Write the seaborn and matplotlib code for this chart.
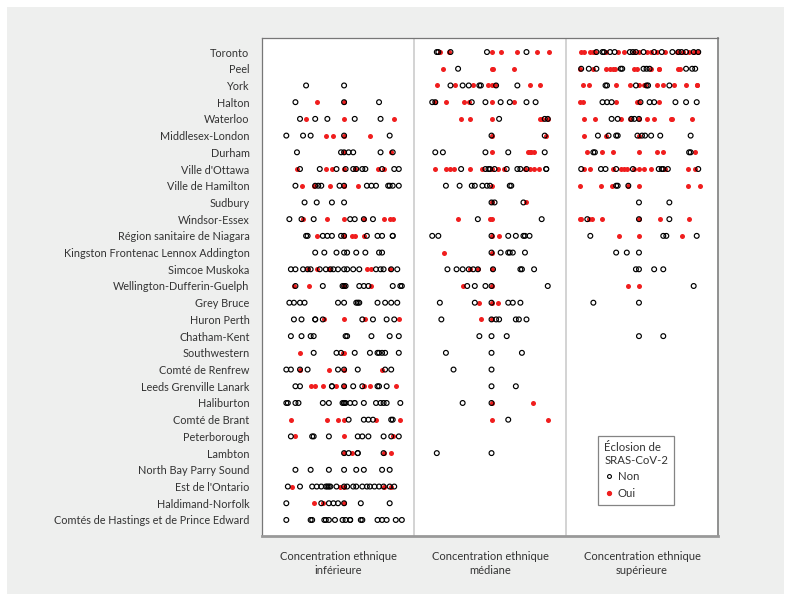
import matplotlib
matplotlib.use("Agg")
import matplotlib.pyplot as plt
from matplotlib.patches import Rectangle
from matplotlib.lines import Line2D
import seaborn as sns
import pandas as pd

# Regions (top to bottom)
regions = ["Toronto", "Peel", "York", "Halton", "Waterloo", "Middlesex-London", "Durham",
           "Ville d'Ottawa", "Ville de Hamilton", "Sudbury", "Windsor-Essex",
           "Région sanitaire de Niagara", "Kingston Frontenac Lennox Addington",
           "Simcoe Muskoka", "Wellington-Dufferin-Guelph", "Grey Bruce", "Huron Perth",
           "Chatham-Kent", "Southwestern", "Comté de Renfrew", "Leeds Grenville Lanark",
           "Haliburton", "Comté de Brant", "Peterborough", "Lambton", "North Bay Parry Sound",
           "Est de l'Ontario", "Haldimand-Norfolk", "Comtés de Hastings et de Prince Edward"]

groups = ["Concentration ethnique\ninférieure", "Concentration ethnique\nmédiane",
          "Concentration ethnique\nsupérieure"]

# position of each home within its group (0-100), split by outbreak status
low_non = {
    "York": [29, 54], "Halton": [22, 54, 77], "Waterloo": [25, 35, 43, 61, 78],
    "Middlesex-London": [16, 27, 32, 54, 84], "Durham": [23, 52, 54, 57, 60, 78, 86],
    "Ville d'Ottawa": [25, 38, 49, 55, 60, 62, 66, 68, 79, 87, 90],
    "Ville de Hamilton": [22, 35, 37, 39, 51, 54, 69, 72, 75, 83, 84, 86, 90],
    "Sudbury": [28, 36, 46, 54], "Windsor-Essex": [18, 26, 34, 58, 61, 67, 73],
    "Région sanitaire de Niagara": [29, 30, 40, 43, 46, 52, 54, 69, 76, 79, 86, 86],
    "Kingston Frontenac Lennox Addington": [35, 41, 49, 54, 56, 62, 68, 77, 79],
    "Simcoe Muskoka": [19, 22, 27, 30, 32, 38, 42, 45, 47, 50, 54, 56, 60, 64, 75, 78, 80, 85, 89],
    "Wellington-Dufferin-Guelph": [22, 40, 53, 54, 55, 64, 67, 70, 86, 91, 92],
    "Grey Bruce": [18, 21, 25, 28, 50, 54, 62, 63, 64, 76, 81, 85, 89],
    "Huron Perth": [21, 26, 35, 35, 40, 66, 73, 82, 87],
    "Chatham-Kent": [19, 26, 32, 34, 55, 56, 72, 84, 90],
    "Southwestern": [34, 49, 52, 61, 71, 76, 77, 79, 81, 90],
    "Comté de Renfrew": [16, 19, 25, 30, 50, 54, 63, 81, 85],
    "Leeds Grenville Lanark": [22, 25, 46, 46, 54, 60, 66, 76, 77, 82],
    "Haliburton": [16, 17, 22, 24, 40, 44, 53, 54, 54, 55, 58, 61, 67, 75, 78, 80, 82, 91],
    "Comté de Brant": [57, 67, 70, 73, 85, 86],
    "Peterborough": [19, 33, 34, 44, 63, 66, 70, 80, 85, 90],
    "Lambton": [54, 57, 63, 63, 80],
    "North Bay Parry Sound": [22, 32, 44, 54, 62, 67, 79, 84],
    "Est de l'Ontario": [17, 25, 33, 36, 39, 42, 43, 44, 45, 49, 54, 56, 60, 62, 66, 69, 71, 74, 77, 80, 84, 87],
    "Haldimand-Norfolk": [16, 39, 44, 47, 50, 54, 65, 84],
    "Comtés de Hastings et de Prince Edward": [16, 32, 33, 41, 42, 44, 48, 53, 55, 58, 58, 65, 66, 76, 79, 82, 88, 92],
}
low_oui = {
    "Halton": [36, 54], "Waterloo": [29, 54, 87], "Middlesex-London": [42, 47, 54, 71],
    "Durham": [54, 85], "Ville d'Ottawa": [23, 42, 46, 54, 61, 76, 80],
    "Ville de Hamilton": [26, 34, 45, 54, 63], "Windsor-Essex": [27, 43, 54, 67, 80, 84, 86],
    "Région sanitaire de Niagara": [36, 54, 59, 61, 67],
    "Simcoe Muskoka": [30, 36, 44, 69, 72, 84], "Wellington-Dufferin-Guelph": [21, 31, 54, 72],
    "Huron Perth": [41, 54, 68, 90], "Southwestern": [25, 53, 54],
    "Comté de Renfrew": [25, 44, 54, 79], "Leeds Grenville Lanark": [32, 35, 40, 49, 54, 67, 71, 88],
    "Comté de Brant": [19, 43, 50, 54, 75, 91], "Peterborough": [22, 54, 86],
    "Lambton": [54, 59, 80, 85], "Est de l'Ontario": [20, 51, 54, 80, 85],
    "Haldimand-Norfolk": [34, 40, 54],
}
mid_non = {
    "Toronto": [15, 16, 24, 48, 74], "Peel": [29], "York": [24, 32, 36, 43, 44, 54, 68],
    "Halton": [12, 14, 38, 47, 57, 63, 74, 80], "Waterloo": [56, 86, 88],
    "Middlesex-London": [51, 86], "Durham": [14, 19, 47, 62, 86],
    "Ville d'Ottawa": [31, 47, 49, 50, 53, 61, 68, 70, 74, 87, 87],
    "Ville de Hamilton": [21, 30, 38, 40, 45, 48, 50, 63, 64], "Sudbury": [51, 53, 72],
    "Windsor-Essex": [42, 84], "Région sanitaire de Niagara": [12, 16, 51, 62, 67, 72, 73, 76],
    "Kingston Frontenac Lennox Addington": [51, 57, 62, 63, 65, 73],
    "Simcoe Muskoka": [22, 28, 32, 36, 39, 42, 52, 70, 71, 79],
    "Wellington-Dufferin-Guelph": [35, 40, 47, 51, 88], "Grey Bruce": [17, 40, 51, 62, 65, 70],
    "Huron Perth": [18, 51, 54, 56, 67, 69, 74], "Chatham-Kent": [43, 51, 61],
    "Southwestern": [21, 51, 71], "Comté de Renfrew": [26, 51], "Leeds Grenville Lanark": [51, 67],
    "Haliburton": [32, 51], "Comté de Brant": [62], "Lambton": [15, 51],
}
mid_oui = {
    "Toronto": [17, 23, 51, 57, 68, 81, 89], "Peel": [19, 51, 52, 66],
    "York": [15, 27, 39, 49, 51, 53, 76, 83], "Halton": [14, 21, 33, 36, 51, 66],
    "Waterloo": [31, 37, 51, 83, 84, 88], "Middlesex-London": [51, 87],
    "Durham": [51, 75, 76, 77, 79],
    "Ville d'Ottawa": [14, 21, 24, 26, 37, 45, 51, 55, 59, 73, 76, 79, 82],
    "Ville de Hamilton": [51], "Sudbury": [51, 74], "Windsor-Essex": [29, 50, 51],
    "Région sanitaire de Niagara": [51, 56], "Kingston Frontenac Lennox Addington": [20, 51],
    "Simcoe Muskoka": [37, 42, 51], "Wellington-Dufferin-Guelph": [32, 51],
    "Grey Bruce": [43, 51, 55], "Huron Perth": [44, 51], "Haliburton": [51, 78],
    "Comté de Brant": [51, 88],
}
high_non = {
    "Toronto": [20, 24, 25, 29, 32, 42, 44, 46, 51, 58, 63, 70, 74, 76, 79, 84, 87],
    "Peel": [10, 15, 20, 36, 37, 51, 53, 55, 79, 83, 85], "York": [26, 27, 46, 53, 54, 68],
    "Halton": [24, 27, 30, 49, 55, 58, 72, 79, 86], "Waterloo": [30, 34, 43, 45, 48],
    "Middlesex-London": [21, 28, 33, 34, 47, 50, 52, 56, 62, 82], "Durham": [18, 19, 81, 82],
    "Ville d'Ottawa": [10, 23, 26, 33, 44, 61, 63, 64, 67, 87],
    "Ville de Hamilton": [33, 34, 41], "Sudbury": [48, 68], "Windsor-Essex": [14, 48, 68],
    "Région sanitaire de Niagara": [16, 64, 66, 86],
    "Kingston Frontenac Lennox Addington": [33, 40, 48], "Simcoe Muskoka": [46, 48, 58, 64],
    "Wellington-Dufferin-Guelph": [84], "Grey Bruce": [18, 48], "Chatham-Kent": [48, 64],
}
high_oui = {
    "Toronto": [10, 12, 16, 18, 19, 26, 34, 38, 45, 48, 53, 56, 60, 65, 73, 77, 81, 84, 87],
    "Peel": [9, 18, 26, 29, 31, 32, 45, 47, 56, 61, 61, 74, 75],
    "York": [11, 15, 33, 42, 48, 51, 52, 60, 64, 71, 79, 86, 86],
    "Halton": [9, 11, 33, 47, 48, 61], "Waterloo": [12, 19, 36, 42, 48, 53, 58, 69, 70, 83],
    "Middlesex-London": [12, 26, 48], "Durham": [14, 24, 31, 48, 60, 64, 85],
    "Ville d'Ottawa": [12, 16, 31, 36, 38, 40, 45, 48, 51, 56, 65, 80, 85],
    "Ville de Hamilton": [9, 23, 30, 41, 48, 80, 88],
    "Windsor-Essex": [9, 10, 15, 17, 24, 48, 62, 81],
    "Région sanitaire de Niagara": [35, 48, 76], "Wellington-Dufferin-Guelph": [41, 48],
}

RED = "#f01e1e"
TXT = "#333333"

rows = []
for g, (non, oui) in enumerate([(low_non, low_oui), (mid_non, mid_oui), (high_non, high_oui)]):
    for status, d in (("Oui", oui), ("Non", non)):
        for reg, vals in d.items():
            for v in vals:
                rows.append({"x": g + v / 100, "y": regions.index(reg), "status": status})
df = pd.DataFrame(rows)

sns.set_theme(style="white")
plt.rcParams["font.family"] = ["Lato", "DejaVu Sans"]

fig = plt.figure(figsize=(7.91, 6.01), dpi=100)
fig.patch.set_facecolor("white")
fig.add_artist(Rectangle((7 / 791, 7 / 601), 777 / 791, 587 / 601, transform=fig.transFigure,
                         facecolor="#eeefee", edgecolor="none", zorder=-5))
ax = fig.add_axes([262 / 791, 1 - 536 / 601, 456 / 791, 498 / 601])
ax.set_facecolor("white")

sns.scatterplot(data=df[df.status == "Oui"], x="x", y="y", ax=ax, color=RED,
                s=13, linewidth=0, legend=False, zorder=3)
sns.scatterplot(data=df[df.status == "Non"], x="x", y="y", ax=ax, marker="o",
                facecolor="none", edgecolor="black", s=12, linewidth=0.85, legend=False, zorder=4)

ax.axvline(1, color="#cccccc", lw=1.2, zorder=1)
ax.axvline(2, color="#cccccc", lw=1.2, zorder=1)

ax.set_xlim(0, 3)
ax.set_ylim(len(regions) - 1 + 0.96, -0.84)
ax.set_yticks(range(len(regions)))
ax.set_yticklabels(regions, fontsize=7.8, color=TXT)
ax.set_xticks([0.5, 1.5, 2.5])
ax.set_xticklabels(groups, fontsize=8, color=TXT, linespacing=1.35)
ax.tick_params(axis="y", length=0, pad=9)
ax.tick_params(axis="x", length=0, pad=11)
ax.set_xlabel("")
ax.set_ylabel("")

for side in ["top", "left"]:
    ax.spines[side].set_color("#777777")
    ax.spines[side].set_linewidth(0.9)
ax.spines["right"].set_color("#888888")
ax.spines["right"].set_linewidth(1.3)
ax.spines["bottom"].set_color("#999999")
ax.spines["bottom"].set_linewidth(2)

handles = [
    Line2D([], [], marker="o", linestyle="none", markerfacecolor="none",
           markeredgecolor="black", markeredgewidth=0.8, markersize=2.8, label="Non"),
    Line2D([], [], marker="o", linestyle="none", markerfacecolor=RED,
           markeredgecolor=RED, markersize=2.8, label="Oui"),
]
leg = ax.legend(handles=handles, title="Éclosion de\nSRAS-CoV-2", loc="upper left",
                bbox_to_anchor=(0.724, 0.213), frameon=True, fancybox=False,
                fontsize=8.2, title_fontsize=8.2, handletextpad=0.4, handlelength=0.8,
                borderpad=0.55, labelspacing=0.5, alignment="left")
leg.get_frame().set_edgecolor("#666666")
leg.get_frame().set_linewidth(0.9)
for t in leg.get_texts():
    t.set_color(TXT)
leg.get_title().set_color(TXT)

fig.savefig("out.png", dpi=100, facecolor=fig.get_facecolor())
